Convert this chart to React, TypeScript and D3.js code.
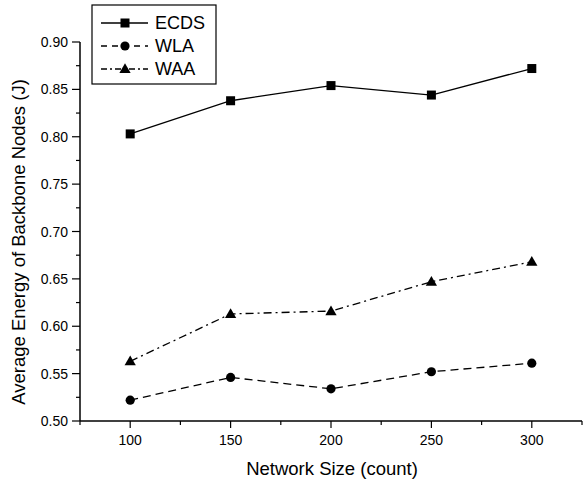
import React from "react";
import * as d3 from "d3";

const sizes = [100, 150, 200, 250, 300];
const ecds = [0.803, 0.838, 0.854, 0.844, 0.872];
const wla = [0.522, 0.546, 0.534, 0.552, 0.561];
const waa = [0.563, 0.613, 0.616, 0.647, 0.668];
const xTicks = [100, 150, 200, 250, 300];
const xMinor = [75, 125, 175, 225, 275, 325];
const yTicks = [0.5, 0.55, 0.6, 0.65, 0.7, 0.75, 0.8, 0.85, 0.9];
const yMinor = [0.525, 0.575, 0.625, 0.675, 0.725, 0.775, 0.825, 0.875];
const seriesNames = ["ECDS", "WLA", "WAA"];

const W = 587, H = 484;
const FONT = "'Liberation Sans', Arial, sans-serif";

export default function App() {
  const x = d3.scaleLinear().domain([75, 325]).range([80, 582]);
  const y = d3.scaleLinear().domain([0.5, 0.9]).range([421, 42]);
  const line = d3.line<[number, number]>().x(d => x(d[0])).y(d => y(d[1]));
  const series = [
    { name: seriesNames[0], vals: ecds, dash: "none", marker: "square" },
    { name: seriesNames[1], vals: wla, dash: "8,5", marker: "circle" },
    { name: seriesNames[2], vals: waa, dash: "8,4,2,4", marker: "triangle" },
  ];
  const marker = (type: string, cx: number, cy: number, key: any) => {
    if (type === "square") return <rect key={key} x={cx - 4.5} y={cy - 4.5} width={9} height={9} fill="#000" />;
    if (type === "circle") return <circle key={key} cx={cx} cy={cy} r={4.6} fill="#000" />;
    const tri = d3.symbol().type(d3.symbolTriangle).size(55)();
    return <path key={key} d={tri as string} transform={`translate(${cx},${cy + 0.8})`} fill="#000" />;
  };
  return (
    <svg width={W} height={H} style={{ position: "absolute", left: 0, top: 0, background: "#fff" }} fontFamily={FONT}>
      <rect width={W} height={H} fill="#fff" />
      {/* axes */}
      <line x1={80} x2={80} y1={y(0.9)} y2={421} stroke="#000" strokeWidth={1.5} />
      <line x1={80} x2={582} y1={421} y2={421} stroke="#000" strokeWidth={1.5} />
      {yTicks.map(t => (
        <g key={"yt" + t}>
          <line x1={72} x2={80} y1={y(t)} y2={y(t)} stroke="#000" strokeWidth={1.2} />
          <text x={68} y={y(t)} dy="0.36em" textAnchor="end" fontSize={14}>{d3.format(".2f")(t)}</text>
        </g>
      ))}
      {yMinor.map(t => (
        <line key={"ym" + t} x1={76} x2={80} y1={y(t)} y2={y(t)} stroke="#000" strokeWidth={1.2} />
      ))}
      {xTicks.map(t => (
        <g key={"xt" + t}>
          <line x1={x(t)} x2={x(t)} y1={421} y2={428} stroke="#000" strokeWidth={1.2} />
          <text x={x(t)} y={445} textAnchor="middle" fontSize={14}>{t}</text>
        </g>
      ))}
      {xMinor.map(t => (
        <line key={"xm" + t} x1={x(t)} x2={x(t)} y1={421} y2={425} stroke="#000" strokeWidth={1.2} />
      ))}
      <text x={332} y={475} textAnchor="middle" fontSize={18.5}>Network Size (count)</text>
      <text transform="translate(25,242) rotate(-90)" textAnchor="middle" fontSize={18.5}>Average Energy of Backbone Nodes (J)</text>
      {/* series */}
      {series.map((s) => {
        const pts = sizes.map((v, j) => [v, s.vals[j]] as [number, number]);
        return (
          <g key={s.name}>
            <path d={line(pts) as string} fill="none" stroke="#000" strokeWidth={1.3} strokeDasharray={s.dash} />
            {pts.map((p, j) => marker(s.marker, x(p[0]), y(p[1]), j))}
          </g>
        );
      })}
      {/* legend */}
      <rect x={92} y={5} width={124} height={79} fill="#fff" stroke="#000" strokeWidth={1.2} />
      {series.map((s, i) => {
        const ly = 23 + i * 23;
        return (
          <g key={"lg" + s.name}>
            <line x1={101} x2={148} y1={ly} y2={ly} stroke="#000" strokeWidth={1.3} strokeDasharray={s.dash === "none" ? "none" : s.dash === "8,5" ? "6,5" : "6,3,2,3"} />
            {marker(s.marker, 125, ly, "m")}
            <text x={155} y={ly} dy="0.36em" fontSize={18}>{s.name}</text>
          </g>
        );
      })}
    </svg>
  );
}
